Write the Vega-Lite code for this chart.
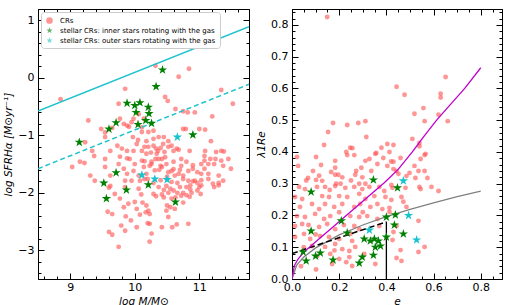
{
  "$schema": "https://vega.github.io/schema/vega-lite/v6.json",
  "background": "white",
  "autosize": {"type": "pad"},
  "padding": {"left": 3, "top": 5, "right": 3, "bottom": 2},
  "bounds": "flush",
  "spacing": 43,
  "config": {
    "view": {"stroke": "#000", "strokeWidth": 1},
    "axis": {"grid": false, "domainColor": "#000", "tickColor": "#000", "labelColor": "#000", "titleColor": "#000", "labelFont": "DejaVu Sans", "titleFont": "DejaVu Sans", "labelFontSize": 11, "titleFontSize": 10.5, "titleFontWeight": "normal", "titleFontStyle": "italic", "tickWidth": 1, "domainWidth": 1, "labelOverlap": false, "labelFlush": false}
  },
  "datasets": {
    "left": [
      {"logM": 8.85, "logSFR": -0.37, "type": "CRs"}, {"logM": 9.28, "logSFR": -0.74, "type": "CRs"}, {"logM": 9.23, "logSFR": -1.12, "type": "CRs"}, {"logM": 10.32, "logSFR": 0.21, "type": "CRs"}, {"logM": 10.84, "logSFR": 0.16, "type": "CRs"}, {"logM": 10.68, "logSFR": 0.02, "type": "CRs"}, {"logM": 10.47, "logSFR": -0.33, "type": "CRs"}, {"logM": 10.51, "logSFR": -0.4, "type": "CRs"}, {"logM": 9.85, "logSFR": -0.19, "type": "CRs"}, {"logM": 9.75, "logSFR": -0.45, "type": "CRs"}, {"logM": 10.63, "logSFR": -0.54, "type": "CRs"}, {"logM": 10.75, "logSFR": -0.58, "type": "CRs"}, {"logM": 10.93, "logSFR": -0.6, "type": "CRs"}, {"logM": 11.2, "logSFR": -0.67, "type": "CRs"}, {"logM": 11.34, "logSFR": -0.21, "type": "CRs"}, {"logM": 11.52, "logSFR": -0.45, "type": "CRs"}, {"logM": 9.48, "logSFR": -0.89, "type": "CRs"}, {"logM": 9.54, "logSFR": -0.95, "type": "CRs"}, {"logM": 9.65, "logSFR": -0.87, "type": "CRs"}, {"logM": 9.88, "logSFR": -0.83, "type": "CRs"}, {"logM": 9.95, "logSFR": -0.77, "type": "CRs"}, {"logM": 9.98, "logSFR": -0.71, "type": "CRs"}, {"logM": 10.11, "logSFR": -0.86, "type": "CRs"}, {"logM": 10.14, "logSFR": -0.71, "type": "CRs"}, {"logM": 10.21, "logSFR": -0.94, "type": "CRs"}, {"logM": 10.29, "logSFR": -0.92, "type": "CRs"}, {"logM": 10.29, "logSFR": -1.06, "type": "CRs"}, {"logM": 10.37, "logSFR": -1.03, "type": "CRs"}, {"logM": 10.44, "logSFR": -1.15, "type": "CRs"}, {"logM": 10.52, "logSFR": -1.2, "type": "CRs"}, {"logM": 10.75, "logSFR": -0.89, "type": "CRs"}, {"logM": 10.79, "logSFR": -0.89, "type": "CRs"}, {"logM": 11.0, "logSFR": -0.89, "type": "CRs"}, {"logM": 11.18, "logSFR": -1.1, "type": "CRs"}, {"logM": 9.54, "logSFR": -1.03, "type": "CRs"}, {"logM": 9.62, "logSFR": -1.27, "type": "CRs"}, {"logM": 9.73, "logSFR": -1.18, "type": "CRs"}, {"logM": 9.88, "logSFR": -1.27, "type": "CRs"}, {"logM": 9.98, "logSFR": -1.27, "type": "CRs"}, {"logM": 10.11, "logSFR": -1.27, "type": "CRs"}, {"logM": 10.21, "logSFR": -1.2, "type": "CRs"}, {"logM": 10.33, "logSFR": -1.23, "type": "CRs"}, {"logM": 10.4, "logSFR": -1.22, "type": "CRs"}, {"logM": 10.6, "logSFR": -1.27, "type": "CRs"}, {"logM": 10.68, "logSFR": -1.25, "type": "CRs"}, {"logM": 11.34, "logSFR": -1.27, "type": "CRs"}, {"logM": 11.38, "logSFR": -1.28, "type": "CRs"}, {"logM": 9.34, "logSFR": -1.27, "type": "CRs"},
      {"logM": 9.77, "logSFR": -0.71, "type": "CRs"}, {"logM": 9.83, "logSFR": -0.8, "type": "CRs"}, {"logM": 9.91, "logSFR": -0.85, "type": "CRs"}, {"logM": 10.06, "logSFR": -0.63, "type": "CRs"}, {"logM": 10.11, "logSFR": -0.94, "type": "CRs"}, {"logM": 9.97, "logSFR": -1.03, "type": "CRs"}, {"logM": 10.03, "logSFR": -1.15, "type": "CRs"}, {"logM": 9.8, "logSFR": -1.23, "type": "CRs"}, {"logM": 9.37, "logSFR": -1.36, "type": "CRs"}, {"logM": 9.54, "logSFR": -1.41, "type": "CRs"}, {"logM": 9.77, "logSFR": -1.37, "type": "CRs"}, {"logM": 9.88, "logSFR": -1.4, "type": "CRs"}, {"logM": 10.11, "logSFR": -1.44, "type": "CRs"}, {"logM": 10.18, "logSFR": -1.32, "type": "CRs"}, {"logM": 9.03, "logSFR": -1.55, "type": "CRs"}, {"logM": 9.15, "logSFR": -1.46, "type": "CRs"}, {"logM": 9.22, "logSFR": -1.48, "type": "CRs"}, {"logM": 9.31, "logSFR": -1.7, "type": "CRs"}, {"logM": 9.54, "logSFR": -1.55, "type": "CRs"}, {"logM": 9.62, "logSFR": -1.7, "type": "CRs"}, {"logM": 9.75, "logSFR": -1.5, "type": "CRs"}, {"logM": 9.83, "logSFR": -1.58, "type": "CRs"}, {"logM": 9.88, "logSFR": -1.67, "type": "CRs"}, {"logM": 9.85, "logSFR": -1.79, "type": "CRs"}, {"logM": 9.98, "logSFR": -1.62, "type": "CRs"}, {"logM": 10.14, "logSFR": -1.55, "type": "CRs"}, {"logM": 10.23, "logSFR": -1.53, "type": "CRs"}, {"logM": 10.15, "logSFR": -1.76, "type": "CRs"}, {"logM": 9.38, "logSFR": -1.79, "type": "CRs"}, {"logM": 9.62, "logSFR": -1.88, "type": "CRs"}, {"logM": 9.85, "logSFR": -1.9, "type": "CRs"},
      {"logM": 9.6, "logSFR": -1.91, "type": "CRs"}, {"logM": 9.69, "logSFR": -2.02, "type": "CRs"}, {"logM": 9.77, "logSFR": -2.1, "type": "CRs"}, {"logM": 9.58, "logSFR": -2.33, "type": "CRs"}, {"logM": 9.65, "logSFR": -2.37, "type": "CRs"}, {"logM": 9.6, "logSFR": -2.68, "type": "CRs"}, {"logM": 9.65, "logSFR": -2.73, "type": "CRs"}, {"logM": 9.75, "logSFR": -2.94, "type": "CRs"}, {"logM": 9.79, "logSFR": -2.57, "type": "CRs"}, {"logM": 9.85, "logSFR": -2.66, "type": "CRs"}, {"logM": 9.86, "logSFR": -2.41, "type": "CRs"}, {"logM": 9.94, "logSFR": -2.48, "type": "CRs"}, {"logM": 9.83, "logSFR": -2.25, "type": "CRs"}, {"logM": 9.9, "logSFR": -2.19, "type": "CRs"}, {"logM": 10.0, "logSFR": -2.16, "type": "CRs"}, {"logM": 10.03, "logSFR": -2.28, "type": "CRs"}, {"logM": 10.08, "logSFR": -2.38, "type": "CRs"}, {"logM": 10.12, "logSFR": -2.17, "type": "CRs"}, {"logM": 10.18, "logSFR": -2.22, "type": "CRs"}, {"logM": 10.21, "logSFR": -2.31, "type": "CRs"}, {"logM": 10.17, "logSFR": -2.34, "type": "CRs"}, {"logM": 10.23, "logSFR": -2.54, "type": "CRs"}, {"logM": 10.2, "logSFR": -2.53, "type": "CRs"}, {"logM": 10.26, "logSFR": -2.71, "type": "CRs"}, {"logM": 10.23, "logSFR": -2.85, "type": "CRs"}, {"logM": 10.03, "logSFR": -2.6, "type": "CRs"}, {"logM": 10.42, "logSFR": -2.6, "type": "CRs"}, {"logM": 10.58, "logSFR": -2.6, "type": "CRs"}, {"logM": 10.65, "logSFR": -2.55, "type": "CRs"}, {"logM": 10.83, "logSFR": -2.54, "type": "CRs"}, {"logM": 10.06, "logSFR": -1.93, "type": "CRs"}, {"logM": 10.1, "logSFR": -2.03, "type": "CRs"}, {"logM": 10.29, "logSFR": -2.02, "type": "CRs"}, {"logM": 10.33, "logSFR": -2.06, "type": "CRs"}, {"logM": 10.42, "logSFR": -2.03, "type": "CRs"}, {"logM": 10.45, "logSFR": -2.08, "type": "CRs"}, {"logM": 10.52, "logSFR": -2.0, "type": "CRs"}, {"logM": 10.6, "logSFR": -1.96, "type": "CRs"}, {"logM": 10.66, "logSFR": -2.0, "type": "CRs"}, {"logM": 10.75, "logSFR": -2.0, "type": "CRs"}, {"logM": 10.8, "logSFR": -2.04, "type": "CRs"}, {"logM": 11.02, "logSFR": -2.02, "type": "CRs"}, {"logM": 10.75, "logSFR": -2.17, "type": "CRs"}, {"logM": 10.62, "logSFR": -2.28, "type": "CRs"}, {"logM": 10.55, "logSFR": -2.25, "type": "CRs"}, {"logM": 10.5, "logSFR": -2.22, "type": "CRs"}, {"logM": 10.57, "logSFR": -2.1, "type": "CRs"}, {"logM": 10.37, "logSFR": -1.9, "type": "CRs"}, {"logM": 10.49, "logSFR": -1.88, "type": "CRs"}, {"logM": 10.57, "logSFR": -1.81, "type": "CRs"}, {"logM": 10.66, "logSFR": -1.83, "type": "CRs"}, {"logM": 10.8, "logSFR": -1.9, "type": "CRs"}, {"logM": 10.86, "logSFR": -1.87, "type": "CRs"}, {"logM": 10.93, "logSFR": -1.79, "type": "CRs"}, {"logM": 11.03, "logSFR": -1.78, "type": "CRs"}, {"logM": 11.14, "logSFR": -1.76, "type": "CRs"}, {"logM": 11.21, "logSFR": -1.84, "type": "CRs"}, {"logM": 11.3, "logSFR": -1.83, "type": "CRs"}, {"logM": 10.86, "logSFR": -1.94, "type": "CRs"}, {"logM": 10.97, "logSFR": -1.96, "type": "CRs"}, {"logM": 10.68, "logSFR": -1.67, "type": "CRs"}, {"logM": 10.75, "logSFR": -1.7, "type": "CRs"}, {"logM": 10.83, "logSFR": -1.62, "type": "CRs"}, {"logM": 10.97, "logSFR": -1.64, "type": "CRs"}, {"logM": 11.14, "logSFR": -1.67, "type": "CRs"}, {"logM": 11.08, "logSFR": -1.58, "type": "CRs"}, {"logM": 11.23, "logSFR": -1.5, "type": "CRs"}, {"logM": 11.34, "logSFR": -1.44, "type": "CRs"}, {"logM": 11.25, "logSFR": -1.41, "type": "CRs"}, {"logM": 11.17, "logSFR": -1.41, "type": "CRs"}, {"logM": 11.08, "logSFR": -1.44, "type": "CRs"}, {"logM": 11.45, "logSFR": -1.41, "type": "CRs"}, {"logM": 10.26, "logSFR": -1.46, "type": "CRs"}, {"logM": 10.37, "logSFR": -1.41, "type": "CRs"}, {"logM": 10.47, "logSFR": -1.38, "type": "CRs"}, {"logM": 10.31, "logSFR": -1.61, "type": "CRs"}, {"logM": 10.42, "logSFR": -1.55, "type": "CRs"}, {"logM": 10.52, "logSFR": -1.64, "type": "CRs"}, {"logM": 10.6, "logSFR": -1.59, "type": "CRs"}, {"logM": 9.92, "logSFR": -1.41, "type": "CRs"}, {"logM": 10.0, "logSFR": -1.5, "type": "CRs"}, {"logM": 10.15, "logSFR": -1.45, "type": "CRs"}, {"logM": 10.06, "logSFR": -1.7, "type": "CRs"}, {"logM": 9.95, "logSFR": -1.79, "type": "CRs"}, {"logM": 10.08, "logSFR": -1.79, "type": "CRs"}, {"logM": 10.2, "logSFR": -1.76, "type": "CRs"}, {"logM": 10.29, "logSFR": -1.83, "type": "CRs"}, {"logM": 11.03, "logSFR": -1.5, "type": "CRs"}, {"logM": 10.9, "logSFR": -1.52, "type": "CRs"}, {"logM": 11.03, "logSFR": -1.87, "type": "CRs"},
      {"logM": 10.82, "logSFR": -0.6, "type": "CRs"}, {"logM": 11.09, "logSFR": -0.9, "type": "CRs"}, {"logM": 10.45, "logSFR": -1.03, "type": "CRs"}, {"logM": 10.52, "logSFR": -1.1, "type": "CRs"}, {"logM": 10.57, "logSFR": -1.18, "type": "CRs"}, {"logM": 10.18, "logSFR": -1.1, "type": "CRs"}, {"logM": 10.29, "logSFR": -1.18, "type": "CRs"}, {"logM": 10.36, "logSFR": -1.27, "type": "CRs"}, {"logM": 10.46, "logSFR": -1.29, "type": "CRs"}, {"logM": 10.65, "logSFR": -1.23, "type": "CRs"}, {"logM": 10.85, "logSFR": -1.27, "type": "CRs"}, {"logM": 11.09, "logSFR": -1.27, "type": "CRs"}, {"logM": 11.26, "logSFR": -1.29, "type": "CRs"}, {"logM": 11.08, "logSFR": -1.36, "type": "CRs"}, {"logM": 11.14, "logSFR": -1.5, "type": "CRs"}, {"logM": 11.37, "logSFR": -1.53, "type": "CRs"}, {"logM": 11.49, "logSFR": -1.58, "type": "CRs"}, {"logM": 10.34, "logSFR": -1.32, "type": "CRs"}, {"logM": 10.42, "logSFR": -1.41, "type": "CRs"}, {"logM": 10.32, "logSFR": -1.41, "type": "CRs"}, {"logM": 10.26, "logSFR": -1.5, "type": "CRs"}, {"logM": 10.4, "logSFR": -1.53, "type": "CRs"}, {"logM": 10.49, "logSFR": -1.5, "type": "CRs"}, {"logM": 10.6, "logSFR": -1.46, "type": "CRs"}, {"logM": 10.72, "logSFR": -1.41, "type": "CRs"}, {"logM": 10.8, "logSFR": -1.46, "type": "CRs"}, {"logM": 10.72, "logSFR": -1.53, "type": "CRs"}, {"logM": 10.9, "logSFR": -1.58, "type": "CRs"}, {"logM": 11.03, "logSFR": -1.67, "type": "CRs"}, {"logM": 10.57, "logSFR": -1.62, "type": "CRs"}, {"logM": 10.62, "logSFR": -1.7, "type": "CRs"}, {"logM": 10.18, "logSFR": -1.67, "type": "CRs"}, {"logM": 10.75, "logSFR": -1.76, "type": "CRs"}, {"logM": 10.83, "logSFR": -1.79, "type": "CRs"}, {"logM": 10.9, "logSFR": -1.8, "type": "CRs"}, {"logM": 10.97, "logSFR": -1.83, "type": "CRs"}, {"logM": 11.37, "logSFR": -1.79, "type": "CRs"}, {"logM": 11.3, "logSFR": -1.7, "type": "CRs"}, {"logM": 10.23, "logSFR": -2.37, "type": "CRs"}, {"logM": 10.49, "logSFR": -2.31, "type": "CRs"}, {"logM": 10.52, "logSFR": -2.42, "type": "CRs"}, {"logM": 10.85, "logSFR": -2.07, "type": "CRs"}, {"logM": 11.0, "logSFR": -1.9, "type": "CRs"}, {"logM": 11.23, "logSFR": -1.9, "type": "CRs"}, {"logM": 11.3, "logSFR": -1.87, "type": "CRs"}, {"logM": 10.45, "logSFR": -1.95, "type": "CRs"}, {"logM": 10.55, "logSFR": -1.93, "type": "CRs"}, {"logM": 10.7, "logSFR": -1.9, "type": "CRs"}, {"logM": 10.63, "logSFR": -2.08, "type": "CRs"}, {"logM": 10.72, "logSFR": -2.05, "type": "CRs"}, {"logM": 10.88, "logSFR": -2.0, "type": "CRs"}, {"logM": 10.4, "logSFR": -1.78, "type": "CRs"}, {"logM": 10.5, "logSFR": -1.72, "type": "CRs"}, {"logM": 10.7, "logSFR": -1.6, "type": "CRs"}, {"logM": 10.38, "logSFR": -1.6, "type": "CRs"}, {"logM": 10.05, "logSFR": -1.08, "type": "CRs"}, {"logM": 10.15, "logSFR": -1.2, "type": "CRs"}, {"logM": 10.25, "logSFR": -1.3, "type": "CRs"},
      {"logM": 9.14, "logSFR": -1.12, "type": "inner"}, {"logM": 9.6, "logSFR": -0.89, "type": "inner"}, {"logM": 9.71, "logSFR": -0.78, "type": "inner"}, {"logM": 9.88, "logSFR": -0.44, "type": "inner"}, {"logM": 10.0, "logSFR": -0.48, "type": "inner"}, {"logM": 10.08, "logSFR": -0.43, "type": "inner"}, {"logM": 10.02, "logSFR": -0.6, "type": "inner"}, {"logM": 10.21, "logSFR": -0.51, "type": "inner"}, {"logM": 10.22, "logSFR": -0.62, "type": "inner"}, {"logM": 10.17, "logSFR": -0.74, "type": "inner"}, {"logM": 10.05, "logSFR": -0.81, "type": "inner"}, {"logM": 10.26, "logSFR": -0.79, "type": "inner"}, {"logM": 10.33, "logSFR": -0.15, "type": "inner"}, {"logM": 10.43, "logSFR": 0.14, "type": "inner"}, {"logM": 10.9, "logSFR": -0.99, "type": "inner"}, {"logM": 9.52, "logSFR": -1.83, "type": "inner"}, {"logM": 9.71, "logSFR": -1.65, "type": "inner"}, {"logM": 9.56, "logSFR": -2.1, "type": "inner"}, {"logM": 9.87, "logSFR": -1.95, "type": "inner"}, {"logM": 10.21, "logSFR": -1.86, "type": "inner"}, {"logM": 10.63, "logSFR": -2.16, "type": "inner"},
      {"logM": 10.66, "logSFR": -1.03, "type": "outer"}, {"logM": 10.11, "logSFR": -1.69, "type": "outer"}, {"logM": 10.31, "logSFR": -1.76, "type": "outer"}, {"logM": 10.5, "logSFR": -1.77, "type": "outer"}
    ],
    "leftLines": [
      {"logM": 8.5, "logSFR": -0.575, "line": "solid"}, {"logM": 11.77, "logSFR": 0.89, "line": "solid"},
      {"logM": 8.5, "logSFR": -1.58, "line": "dashed"}, {"logM": 11.77, "logSFR": -0.11, "line": "dashed"}
    ],
    "right": [
      {"e": 0.149, "lambda": 0.825, "type": "CRs"}, {"e": 0.136, "lambda": 0.422, "type": "CRs"}, {"e": 0.153, "lambda": 0.463, "type": "CRs"}, {"e": 0.174, "lambda": 0.491, "type": "CRs"}, {"e": 0.234, "lambda": 0.485, "type": "CRs"}, {"e": 0.281, "lambda": 0.491, "type": "CRs"}, {"e": 0.311, "lambda": 0.497, "type": "CRs"}, {"e": 0.315, "lambda": 0.447, "type": "CRs"}, {"e": 0.247, "lambda": 0.413, "type": "CRs"}, {"e": 0.256, "lambda": 0.412, "type": "CRs"}, {"e": 0.234, "lambda": 0.39, "type": "CRs"}, {"e": 0.264, "lambda": 0.39, "type": "CRs"}, {"e": 0.357, "lambda": 0.397, "type": "CRs"}, {"e": 0.379, "lambda": 0.413, "type": "CRs"}, {"e": 0.404, "lambda": 0.425, "type": "CRs"}, {"e": 0.43, "lambda": 0.422, "type": "CRs"}, {"e": 0.443, "lambda": 0.605, "type": "CRs"}, {"e": 0.477, "lambda": 0.58, "type": "CRs"}, {"e": 0.519, "lambda": 0.52, "type": "CRs"}, {"e": 0.51, "lambda": 0.441, "type": "CRs"}, {"e": 0.54, "lambda": 0.428, "type": "CRs"}, {"e": 0.54, "lambda": 0.418, "type": "CRs"}, {"e": 0.557, "lambda": 0.538, "type": "CRs"}, {"e": 0.562, "lambda": 0.497, "type": "CRs"}, {"e": 0.562, "lambda": 0.39, "type": "CRs"}, {"e": 0.621, "lambda": 0.517, "type": "CRs"}, {"e": 0.63, "lambda": 0.583, "type": "CRs"}, {"e": 0.63, "lambda": 0.571, "type": "CRs"}, {"e": 0.651, "lambda": 0.636, "type": "CRs"}, {"e": 0.66, "lambda": 0.497, "type": "CRs"},
      {"e": 0.021, "lambda": 0.384, "type": "CRs"}, {"e": 0.068, "lambda": 0.318, "type": "CRs"}, {"e": 0.089, "lambda": 0.34, "type": "CRs"}, {"e": 0.102, "lambda": 0.384, "type": "CRs"}, {"e": 0.102, "lambda": 0.312, "type": "CRs"}, {"e": 0.115, "lambda": 0.325, "type": "CRs"}, {"e": 0.128, "lambda": 0.309, "type": "CRs"}, {"e": 0.123, "lambda": 0.359, "type": "CRs"}, {"e": 0.166, "lambda": 0.337, "type": "CRs"}, {"e": 0.183, "lambda": 0.372, "type": "CRs"}, {"e": 0.183, "lambda": 0.35, "type": "CRs"}, {"e": 0.183, "lambda": 0.328, "type": "CRs"}, {"e": 0.196, "lambda": 0.328, "type": "CRs"}, {"e": 0.187, "lambda": 0.3, "type": "CRs"}, {"e": 0.206, "lambda": 0.3, "type": "CRs"}, {"e": 0.23, "lambda": 0.4, "type": "CRs"}, {"e": 0.272, "lambda": 0.34, "type": "CRs"}, {"e": 0.294, "lambda": 0.35, "type": "CRs"}, {"e": 0.268, "lambda": 0.328, "type": "CRs"}, {"e": 0.285, "lambda": 0.3, "type": "CRs"}, {"e": 0.311, "lambda": 0.372, "type": "CRs"}, {"e": 0.328, "lambda": 0.378, "type": "CRs"}, {"e": 0.336, "lambda": 0.34, "type": "CRs"}, {"e": 0.353, "lambda": 0.394, "type": "CRs"}, {"e": 0.362, "lambda": 0.362, "type": "CRs"}, {"e": 0.387, "lambda": 0.381, "type": "CRs"}, {"e": 0.413, "lambda": 0.4, "type": "CRs"}, {"e": 0.404, "lambda": 0.356, "type": "CRs"}, {"e": 0.42, "lambda": 0.37, "type": "CRs"}, {"e": 0.298, "lambda": 0.32, "type": "CRs"}, {"e": 0.311, "lambda": 0.3, "type": "CRs"}, {"e": 0.213, "lambda": 0.32, "type": "CRs"}, {"e": 0.566, "lambda": 0.394, "type": "CRs"}, {"e": 0.545, "lambda": 0.378, "type": "CRs"}, {"e": 0.43, "lambda": 0.369, "type": "CRs"}, {"e": 0.46, "lambda": 0.381, "type": "CRs"}, {"e": 0.43, "lambda": 0.346, "type": "CRs"}, {"e": 0.443, "lambda": 0.34, "type": "CRs"}, {"e": 0.519, "lambda": 0.356, "type": "CRs"}, {"e": 0.536, "lambda": 0.34, "type": "CRs"}, {"e": 0.562, "lambda": 0.34, "type": "CRs"}, {"e": 0.498, "lambda": 0.334, "type": "CRs"}, {"e": 0.485, "lambda": 0.324, "type": "CRs"}, {"e": 0.451, "lambda": 0.331, "type": "CRs"}, {"e": 0.523, "lambda": 0.318, "type": "CRs"}, {"e": 0.574, "lambda": 0.318, "type": "CRs"}, {"e": 0.54, "lambda": 0.29, "type": "CRs"}, {"e": 0.591, "lambda": 0.29, "type": "CRs"}, {"e": 0.421, "lambda": 0.296, "type": "CRs"},
      {"e": 0.03, "lambda": 0.29, "type": "CRs"}, {"e": 0.055, "lambda": 0.283, "type": "CRs"}, {"e": 0.106, "lambda": 0.29, "type": "CRs"}, {"e": 0.14, "lambda": 0.29, "type": "CRs"}, {"e": 0.183, "lambda": 0.293, "type": "CRs"}, {"e": 0.226, "lambda": 0.287, "type": "CRs"}, {"e": 0.264, "lambda": 0.29, "type": "CRs"}, {"e": 0.298, "lambda": 0.283, "type": "CRs"}, {"e": 0.328, "lambda": 0.29, "type": "CRs"}, {"e": 0.37, "lambda": 0.29, "type": "CRs"}, {"e": 0.391, "lambda": 0.277, "type": "CRs"}, {"e": 0.013, "lambda": 0.258, "type": "CRs"}, {"e": 0.043, "lambda": 0.252, "type": "CRs"}, {"e": 0.128, "lambda": 0.261, "type": "CRs"}, {"e": 0.157, "lambda": 0.258, "type": "CRs"}, {"e": 0.2, "lambda": 0.261, "type": "CRs"}, {"e": 0.234, "lambda": 0.258, "type": "CRs"}, {"e": 0.285, "lambda": 0.268, "type": "CRs"}, {"e": 0.311, "lambda": 0.252, "type": "CRs"}, {"e": 0.349, "lambda": 0.261, "type": "CRs"}, {"e": 0.396, "lambda": 0.258, "type": "CRs"}, {"e": 0.034, "lambda": 0.227, "type": "CRs"}, {"e": 0.085, "lambda": 0.236, "type": "CRs"}, {"e": 0.115, "lambda": 0.22, "type": "CRs"}, {"e": 0.14, "lambda": 0.236, "type": "CRs"}, {"e": 0.179, "lambda": 0.227, "type": "CRs"}, {"e": 0.213, "lambda": 0.236, "type": "CRs"}, {"e": 0.264, "lambda": 0.227, "type": "CRs"}, {"e": 0.289, "lambda": 0.236, "type": "CRs"}, {"e": 0.332, "lambda": 0.227, "type": "CRs"}, {"e": 0.362, "lambda": 0.236, "type": "CRs"}, {"e": 0.383, "lambda": 0.22, "type": "CRs"}, {"e": 0.021, "lambda": 0.198, "type": "CRs"}, {"e": 0.055, "lambda": 0.195, "type": "CRs"}, {"e": 0.098, "lambda": 0.205, "type": "CRs"}, {"e": 0.136, "lambda": 0.189, "type": "CRs"}, {"e": 0.162, "lambda": 0.198, "type": "CRs"}, {"e": 0.247, "lambda": 0.198, "type": "CRs"}, {"e": 0.285, "lambda": 0.195, "type": "CRs"}, {"e": 0.319, "lambda": 0.198, "type": "CRs"}, {"e": 0.362, "lambda": 0.189, "type": "CRs"}, {"e": 0.013, "lambda": 0.167, "type": "CRs"}, {"e": 0.043, "lambda": 0.173, "type": "CRs"}, {"e": 0.115, "lambda": 0.164, "type": "CRs"}, {"e": 0.149, "lambda": 0.173, "type": "CRs"}, {"e": 0.183, "lambda": 0.157, "type": "CRs"}, {"e": 0.264, "lambda": 0.167, "type": "CRs"}, {"e": 0.285, "lambda": 0.157, "type": "CRs"}, {"e": 0.37, "lambda": 0.167, "type": "CRs"}, {"e": 0.013, "lambda": 0.132, "type": "CRs"}, {"e": 0.051, "lambda": 0.142, "type": "CRs"}, {"e": 0.077, "lambda": 0.126, "type": "CRs"}, {"e": 0.119, "lambda": 0.135, "type": "CRs"}, {"e": 0.157, "lambda": 0.132, "type": "CRs"}, {"e": 0.2, "lambda": 0.126, "type": "CRs"}, {"e": 0.247, "lambda": 0.142, "type": "CRs"}, {"e": 0.255, "lambda": 0.12, "type": "CRs"}, {"e": 0.085, "lambda": 0.104, "type": "CRs"}, {"e": 0.14, "lambda": 0.101, "type": "CRs"}, {"e": 0.183, "lambda": 0.11, "type": "CRs"}, {"e": 0.213, "lambda": 0.094, "type": "CRs"}, {"e": 0.268, "lambda": 0.101, "type": "CRs"}, {"e": 0.243, "lambda": 0.088, "type": "CRs"}, {"e": 0.106, "lambda": 0.072, "type": "CRs"}, {"e": 0.162, "lambda": 0.079, "type": "CRs"}, {"e": 0.2, "lambda": 0.063, "type": "CRs"}, {"e": 0.243, "lambda": 0.069, "type": "CRs"}, {"e": 0.306, "lambda": 0.079, "type": "CRs"}, {"e": 0.17, "lambda": 0.047, "type": "CRs"}, {"e": 0.255, "lambda": 0.041, "type": "CRs"}, {"e": 0.353, "lambda": 0.047, "type": "CRs"}, {"e": 0.038, "lambda": 0.04, "type": "CRs"}, {"e": 0.102, "lambda": 0.03, "type": "CRs"}, {"e": 0.23, "lambda": 0.053, "type": "CRs"}, {"e": 0.464, "lambda": 0.057, "type": "CRs"},
      {"e": 0.426, "lambda": 0.287, "type": "CRs"}, {"e": 0.481, "lambda": 0.287, "type": "CRs"}, {"e": 0.545, "lambda": 0.283, "type": "CRs"}, {"e": 0.621, "lambda": 0.277, "type": "CRs"}, {"e": 0.421, "lambda": 0.249, "type": "CRs"}, {"e": 0.464, "lambda": 0.258, "type": "CRs"}, {"e": 0.472, "lambda": 0.243, "type": "CRs"}, {"e": 0.485, "lambda": 0.227, "type": "CRs"}, {"e": 0.413, "lambda": 0.224, "type": "CRs"}, {"e": 0.413, "lambda": 0.211, "type": "CRs"}, {"e": 0.443, "lambda": 0.167, "type": "CRs"}, {"e": 0.43, "lambda": 0.148, "type": "CRs"}, {"e": 0.426, "lambda": 0.123, "type": "CRs"}, {"e": 0.536, "lambda": 0.183, "type": "CRs"}, {"e": 0.562, "lambda": 0.101, "type": "CRs"}, {"e": 0.536, "lambda": 0.085, "type": "CRs"}, {"e": 0.46, "lambda": 0.091, "type": "CRs"}, {"e": 0.443, "lambda": 0.066, "type": "CRs"}, {"e": 0.026, "lambda": 0.356, "type": "CRs"}, {"e": 0.06, "lambda": 0.31, "type": "CRs"}, {"e": 0.16, "lambda": 0.28, "type": "CRs"}, {"e": 0.25, "lambda": 0.31, "type": "CRs"}, {"e": 0.2, "lambda": 0.21, "type": "CRs"}, {"e": 0.3, "lambda": 0.21, "type": "CRs"}, {"e": 0.07, "lambda": 0.17, "type": "CRs"}, {"e": 0.22, "lambda": 0.17, "type": "CRs"}, {"e": 0.1, "lambda": 0.14, "type": "CRs"}, {"e": 0.05, "lambda": 0.1, "type": "CRs"}, {"e": 0.18, "lambda": 0.09, "type": "CRs"},
      {"e": 0.081, "lambda": 0.274, "type": "inner"}, {"e": 0.345, "lambda": 0.312, "type": "inner"}, {"e": 0.447, "lambda": 0.287, "type": "inner"}, {"e": 0.209, "lambda": 0.183, "type": "inner"}, {"e": 0.081, "lambda": 0.151, "type": "inner"}, {"e": 0.047, "lambda": 0.085, "type": "inner"}, {"e": 0.06, "lambda": 0.057, "type": "inner"}, {"e": 0.1, "lambda": 0.072, "type": "inner"}, {"e": 0.12, "lambda": 0.082, "type": "inner"}, {"e": 0.174, "lambda": 0.06, "type": "inner"}, {"e": 0.234, "lambda": 0.145, "type": "inner"}, {"e": 0.285, "lambda": 0.05, "type": "inner"}, {"e": 0.298, "lambda": 0.069, "type": "inner"}, {"e": 0.306, "lambda": 0.126, "type": "inner"}, {"e": 0.332, "lambda": 0.12, "type": "inner"}, {"e": 0.349, "lambda": 0.126, "type": "inner"}, {"e": 0.366, "lambda": 0.12, "type": "inner"}, {"e": 0.353, "lambda": 0.1, "type": "inner"}, {"e": 0.375, "lambda": 0.104, "type": "inner"}, {"e": 0.345, "lambda": 0.075, "type": "inner"}, {"e": 0.4, "lambda": 0.195, "type": "inner"}, {"e": 0.4, "lambda": 0.132, "type": "inner"}, {"e": 0.438, "lambda": 0.202, "type": "inner"}, {"e": 0.434, "lambda": 0.17, "type": "inner"}, {"e": 0.472, "lambda": 0.142, "type": "inner"},
      {"e": 0.472, "lambda": 0.309, "type": "outer"}, {"e": 0.494, "lambda": 0.2, "type": "outer"}, {"e": 0.328, "lambda": 0.154, "type": "outer"}, {"e": 0.528, "lambda": 0.123, "type": "outer"}
    ],
    "rightLines": [
      {"e": 0.0, "lambda": 0.0, "line": "gray"}, {"e": 0.02, "lambda": 0.044, "line": "gray"}, {"e": 0.05, "lambda": 0.069, "line": "gray"}, {"e": 0.1, "lambda": 0.098, "line": "gray"}, {"e": 0.2, "lambda": 0.139, "line": "gray"}, {"e": 0.3, "lambda": 0.17, "line": "gray"}, {"e": 0.4, "lambda": 0.196, "line": "gray"}, {"e": 0.5, "lambda": 0.219, "line": "gray"}, {"e": 0.6, "lambda": 0.24, "line": "gray"}, {"e": 0.7, "lambda": 0.259, "line": "gray"}, {"e": 0.8, "lambda": 0.277, "line": "gray"},
      {"e": 0.0, "lambda": 0.08, "line": "slow"}, {"e": 0.4, "lambda": 0.18, "line": "slow"},
      {"e": 0.4, "lambda": 0.0, "line": "vert"}, {"e": 0.4, "lambda": 0.18, "line": "vert"},
      {"e": 0.0, "lambda": 0.0, "line": "iso"}, {"e": 0.01, "lambda": 0.042, "line": "iso"}, {"e": 0.025, "lambda": 0.062, "line": "iso"}, {"e": 0.05, "lambda": 0.085, "line": "iso"}, {"e": 0.08, "lambda": 0.104, "line": "iso"}, {"e": 0.12, "lambda": 0.13, "line": "iso"}, {"e": 0.16, "lambda": 0.155, "line": "iso"}, {"e": 0.23, "lambda": 0.2, "line": "iso"}, {"e": 0.3, "lambda": 0.245, "line": "iso"}, {"e": 0.39, "lambda": 0.302, "line": "iso"}, {"e": 0.45, "lambda": 0.345, "line": "iso"}, {"e": 0.51, "lambda": 0.4, "line": "iso"}, {"e": 0.56, "lambda": 0.45, "line": "iso"}, {"e": 0.613, "lambda": 0.5, "line": "iso"}, {"e": 0.67, "lambda": 0.548, "line": "iso"}, {"e": 0.732, "lambda": 0.6, "line": "iso"}, {"e": 0.8, "lambda": 0.665, "line": "iso"}
    ]
  },
  "resolve": {"scale": {"color": "independent", "shape": "independent"}},
  "hconcat": [
    {
      "width": 211,
      "height": 270,
      "resolve": {"axis": {"x": "independent", "y": "independent"}},
      "layer": [
        {
          "layer": [
            {
              "data": {"name": "left"},
              "transform": [{"filter": "datum.type === 'CRs'"}],
              "mark": {"type": "point", "filled": true, "opacity": 0.6, "size": 24},
              "encoding": {
                "x": {"field": "logM", "type": "quantitative", "scale": {"domain": [8.5, 11.77], "nice": false, "zero": false}, "axis": {"orient": "bottom", "values": [8.6, 8.8, 9, 9.2, 9.4, 9.6, 9.8, 10, 10.2, 10.4, 10.6, 10.8, 11, 11.2, 11.4, 11.6], "tickCount": 200, "tickSize": {"condition": {"test": "abs(datum.value - round(datum.value)) < 0.001", "value": -6}, "value": -3}, "labelExpr": "abs(datum.value - round(datum.value)) < 0.001 ? format(datum.value, 'd') : ''", "labelOverlap": false, "labelPadding": 8, "title": "log M/M⊙", "titlePadding": 1}},
                "y": {"field": "logSFR", "type": "quantitative", "scale": {"domain": [-3.5, 1.2], "nice": false, "zero": false}, "axis": {"orient": "left", "values": [-3.4, -3.2, -3, -2.8, -2.6, -2.4, -2.2, -2, -1.8, -1.6, -1.4, -1.2, -1, -0.8, -0.6, -0.4, -0.2, 0, 0.2, 0.4, 0.6, 0.8, 1], "tickCount": 200, "tickSize": {"condition": {"test": "abs(datum.value - round(datum.value)) < 0.001", "value": -6}, "value": -3}, "labelExpr": "abs(datum.value - round(datum.value)) < 0.001 ? format(datum.value, 'd') : ''", "labelOverlap": false, "labelPadding": 10, "title": "log SFRHα  [M⊙yr⁻¹]", "titlePadding": 4}},
                "color": {"field": "type", "type": "nominal", "scale": {"domain": ["CRs", "inner", "outer"], "range": ["#ff5050", "#008000", "#17c3cc"]}, "legend": {"orient": "top-left", "offset": 3, "title": null, "labelFont": "DejaVu Sans", "labelFontSize": 7, "labelColor": "#000", "padding": 4, "rowPadding": 2, "symbolSize": 45, "strokeColor": "#cccccc", "fillColor": "white", "cornerRadius": 3, "labelOffset": 6, "labelExpr": "datum.label == 'inner' ? 'stellar CRs: inner stars rotating with the gas' : datum.label == 'outer' ? 'stellar CRs: outer stars rotating with the gas' : 'CRs'"}},
                "shape": {"field": "type", "type": "nominal", "scale": {"domain": ["CRs", "inner", "outer"], "range": ["circle", "M0,-1L0.2245,-0.309L0.951,-0.309L0.363,0.118L0.588,0.809L0,0.382L-0.588,0.809L-0.363,0.118L-0.951,-0.309L-0.2245,-0.309Z", "M0,-1L0.2245,-0.309L0.951,-0.309L0.363,0.118L0.588,0.809L0,0.382L-0.588,0.809L-0.363,0.118L-0.951,-0.309L-0.2245,-0.309Z"]}}
              }
            },
            {
              "data": {"name": "leftLines"},
              "transform": [{"filter": "datum.line === 'solid'"}],
              "mark": {"type": "line", "color": "#1ec3cc", "strokeWidth": 1.5, "clip": true},
              "encoding": {"x": {"field": "logM", "type": "quantitative"}, "y": {"field": "logSFR", "type": "quantitative"}}
            },
            {
              "data": {"name": "leftLines"},
              "transform": [{"filter": "datum.line === 'dashed'"}],
              "mark": {"type": "line", "color": "#1ec3cc", "strokeWidth": 1.5, "strokeDash": [5, 3], "clip": true},
              "encoding": {"x": {"field": "logM", "type": "quantitative"}, "y": {"field": "logSFR", "type": "quantitative"}}
            }
          ]
        },
        {
          "data": {"name": "left"},
          "transform": [{"filter": "datum.type !== 'CRs'"}],
          "mark": {"type": "point", "filled": true, "opacity": 1, "size": 95},
          "encoding": {
            "x": {"field": "logM", "type": "quantitative", "axis": {"orient": "top", "values": [8.6, 8.8, 9, 9.2, 9.4, 9.6, 9.8, 10, 10.2, 10.4, 10.6, 10.8, 11, 11.2, 11.4, 11.6], "tickCount": 200, "tickSize": {"condition": {"test": "abs(datum.value - round(datum.value)) < 0.001", "value": -6}, "value": -3}, "labels": false, "title": null}},
            "y": {"field": "logSFR", "type": "quantitative", "axis": {"orient": "right", "values": [-3.4, -3.2, -3, -2.8, -2.6, -2.4, -2.2, -2, -1.8, -1.6, -1.4, -1.2, -1, -0.8, -0.6, -0.4, -0.2, 0, 0.2, 0.4, 0.6, 0.8, 1], "tickCount": 200, "tickSize": {"condition": {"test": "abs(datum.value - round(datum.value)) < 0.001", "value": -6}, "value": -3}, "labels": false, "title": null}},
            "color": {"field": "type", "type": "nominal"},
            "shape": {"field": "type", "type": "nominal"}
          }
        }
      ]
    },
    {
      "width": 210,
      "height": 270,
      "resolve": {"axis": {"x": "independent", "y": "independent"}},
      "layer": [
        {
          "layer": [
            {
              "data": {"name": "right"},
              "transform": [{"filter": "datum.type === 'CRs'"}],
              "mark": {"type": "point", "filled": true, "opacity": 0.6, "color": "#ff5050", "shape": "circle", "size": 24},
              "encoding": {
                "x": {"field": "e", "type": "quantitative", "scale": {"domain": [0, 0.89], "nice": false, "zero": false}, "axis": {"orient": "bottom", "values": [0, 0.05, 0.1, 0.15, 0.2, 0.25, 0.3, 0.35, 0.4, 0.45, 0.5, 0.55, 0.6, 0.65, 0.7, 0.75, 0.8, 0.85], "tickCount": 200, "tickSize": {"condition": {"test": "abs(datum.value * 5 - round(datum.value * 5)) < 0.001", "value": -6}, "value": -3}, "labelExpr": "abs(datum.value * 5 - round(datum.value * 5)) < 0.001 ? format(datum.value, '.1f') : ''", "labelOverlap": false, "labelPadding": 8, "title": "e", "titlePadding": 1}},
                "y": {"field": "lambda", "type": "quantitative", "scale": {"domain": [0, 0.85], "nice": false, "zero": false}, "axis": {"orient": "left", "values": [0, 0.02, 0.04, 0.06, 0.08, 0.1, 0.12, 0.14, 0.16, 0.18, 0.2, 0.22, 0.24, 0.26, 0.28, 0.3, 0.32, 0.34, 0.36, 0.38, 0.4, 0.42, 0.44, 0.46, 0.48, 0.5, 0.52, 0.54, 0.56, 0.58, 0.6, 0.62, 0.64, 0.66, 0.68, 0.7, 0.72, 0.74, 0.76, 0.78, 0.8, 0.82, 0.84], "tickCount": 200, "tickSize": {"condition": {"test": "abs(datum.value * 10 - round(datum.value * 10)) < 0.001", "value": -6}, "value": -3}, "labelExpr": "abs(datum.value * 10 - round(datum.value * 10)) < 0.001 ? format(datum.value, '.1f') : ''", "labelOverlap": false, "labelPadding": 10, "title": "λ1Re", "titlePadding": 4}}
              }
            },
            {
              "data": {"name": "rightLines"},
              "transform": [{"filter": "datum.line === 'gray'"}],
              "mark": {"type": "line", "color": "#808080", "strokeWidth": 1.3, "clip": true},
              "encoding": {"x": {"field": "e", "type": "quantitative"}, "y": {"field": "lambda", "type": "quantitative"}}
            },
            {
              "data": {"name": "rightLines"},
              "transform": [{"filter": "datum.line === 'slow'"}],
              "mark": {"type": "line", "color": "#000000", "strokeWidth": 1.5, "strokeDash": [6, 3], "clip": true},
              "encoding": {"x": {"field": "e", "type": "quantitative"}, "y": {"field": "lambda", "type": "quantitative"}}
            },
            {
              "data": {"name": "rightLines"},
              "transform": [{"filter": "datum.line === 'vert'"}],
              "mark": {"type": "line", "color": "#000000", "strokeWidth": 1.3, "clip": true},
              "encoding": {"x": {"field": "e", "type": "quantitative"}, "y": {"field": "lambda", "type": "quantitative"}}
            },
            {
              "data": {"name": "rightLines"},
              "transform": [{"filter": "datum.line === 'iso'"}],
              "mark": {"type": "line", "color": "#c000cc", "strokeWidth": 1.3, "clip": true},
              "encoding": {"x": {"field": "e", "type": "quantitative"}, "y": {"field": "lambda", "type": "quantitative"}}
            }
          ]
        },
        {
          "layer": [
            {
              "data": {"name": "right"},
              "transform": [{"filter": "datum.type === 'inner'"}],
              "mark": {"type": "point", "filled": true, "opacity": 1, "color": "#008000", "shape": "M0,-1L0.2245,-0.309L0.951,-0.309L0.363,0.118L0.588,0.809L0,0.382L-0.588,0.809L-0.363,0.118L-0.951,-0.309L-0.2245,-0.309Z", "size": 95},
              "encoding": {
                "x": {"field": "e", "type": "quantitative", "axis": {"orient": "top", "values": [0, 0.05, 0.1, 0.15, 0.2, 0.25, 0.3, 0.35, 0.4, 0.45, 0.5, 0.55, 0.6, 0.65, 0.7, 0.75, 0.8, 0.85], "tickCount": 200, "tickSize": {"condition": {"test": "abs(datum.value * 5 - round(datum.value * 5)) < 0.001", "value": -6}, "value": -3}, "labels": false, "title": null}},
                "y": {"field": "lambda", "type": "quantitative", "axis": {"orient": "right", "values": [0, 0.02, 0.04, 0.06, 0.08, 0.1, 0.12, 0.14, 0.16, 0.18, 0.2, 0.22, 0.24, 0.26, 0.28, 0.3, 0.32, 0.34, 0.36, 0.38, 0.4, 0.42, 0.44, 0.46, 0.48, 0.5, 0.52, 0.54, 0.56, 0.58, 0.6, 0.62, 0.64, 0.66, 0.68, 0.7, 0.72, 0.74, 0.76, 0.78, 0.8, 0.82, 0.84], "tickCount": 200, "tickSize": {"condition": {"test": "abs(datum.value * 10 - round(datum.value * 10)) < 0.001", "value": -6}, "value": -3}, "labels": false, "title": null}}
              }
            },
            {
              "data": {"name": "right"},
              "transform": [{"filter": "datum.type === 'outer'"}],
              "mark": {"type": "point", "filled": true, "opacity": 1, "color": "#17c3cc", "shape": "M0,-1L0.2245,-0.309L0.951,-0.309L0.363,0.118L0.588,0.809L0,0.382L-0.588,0.809L-0.363,0.118L-0.951,-0.309L-0.2245,-0.309Z", "size": 95},
              "encoding": {"x": {"field": "e", "type": "quantitative"}, "y": {"field": "lambda", "type": "quantitative"}}
            }
          ]
        }
      ]
    }
  ]
}
